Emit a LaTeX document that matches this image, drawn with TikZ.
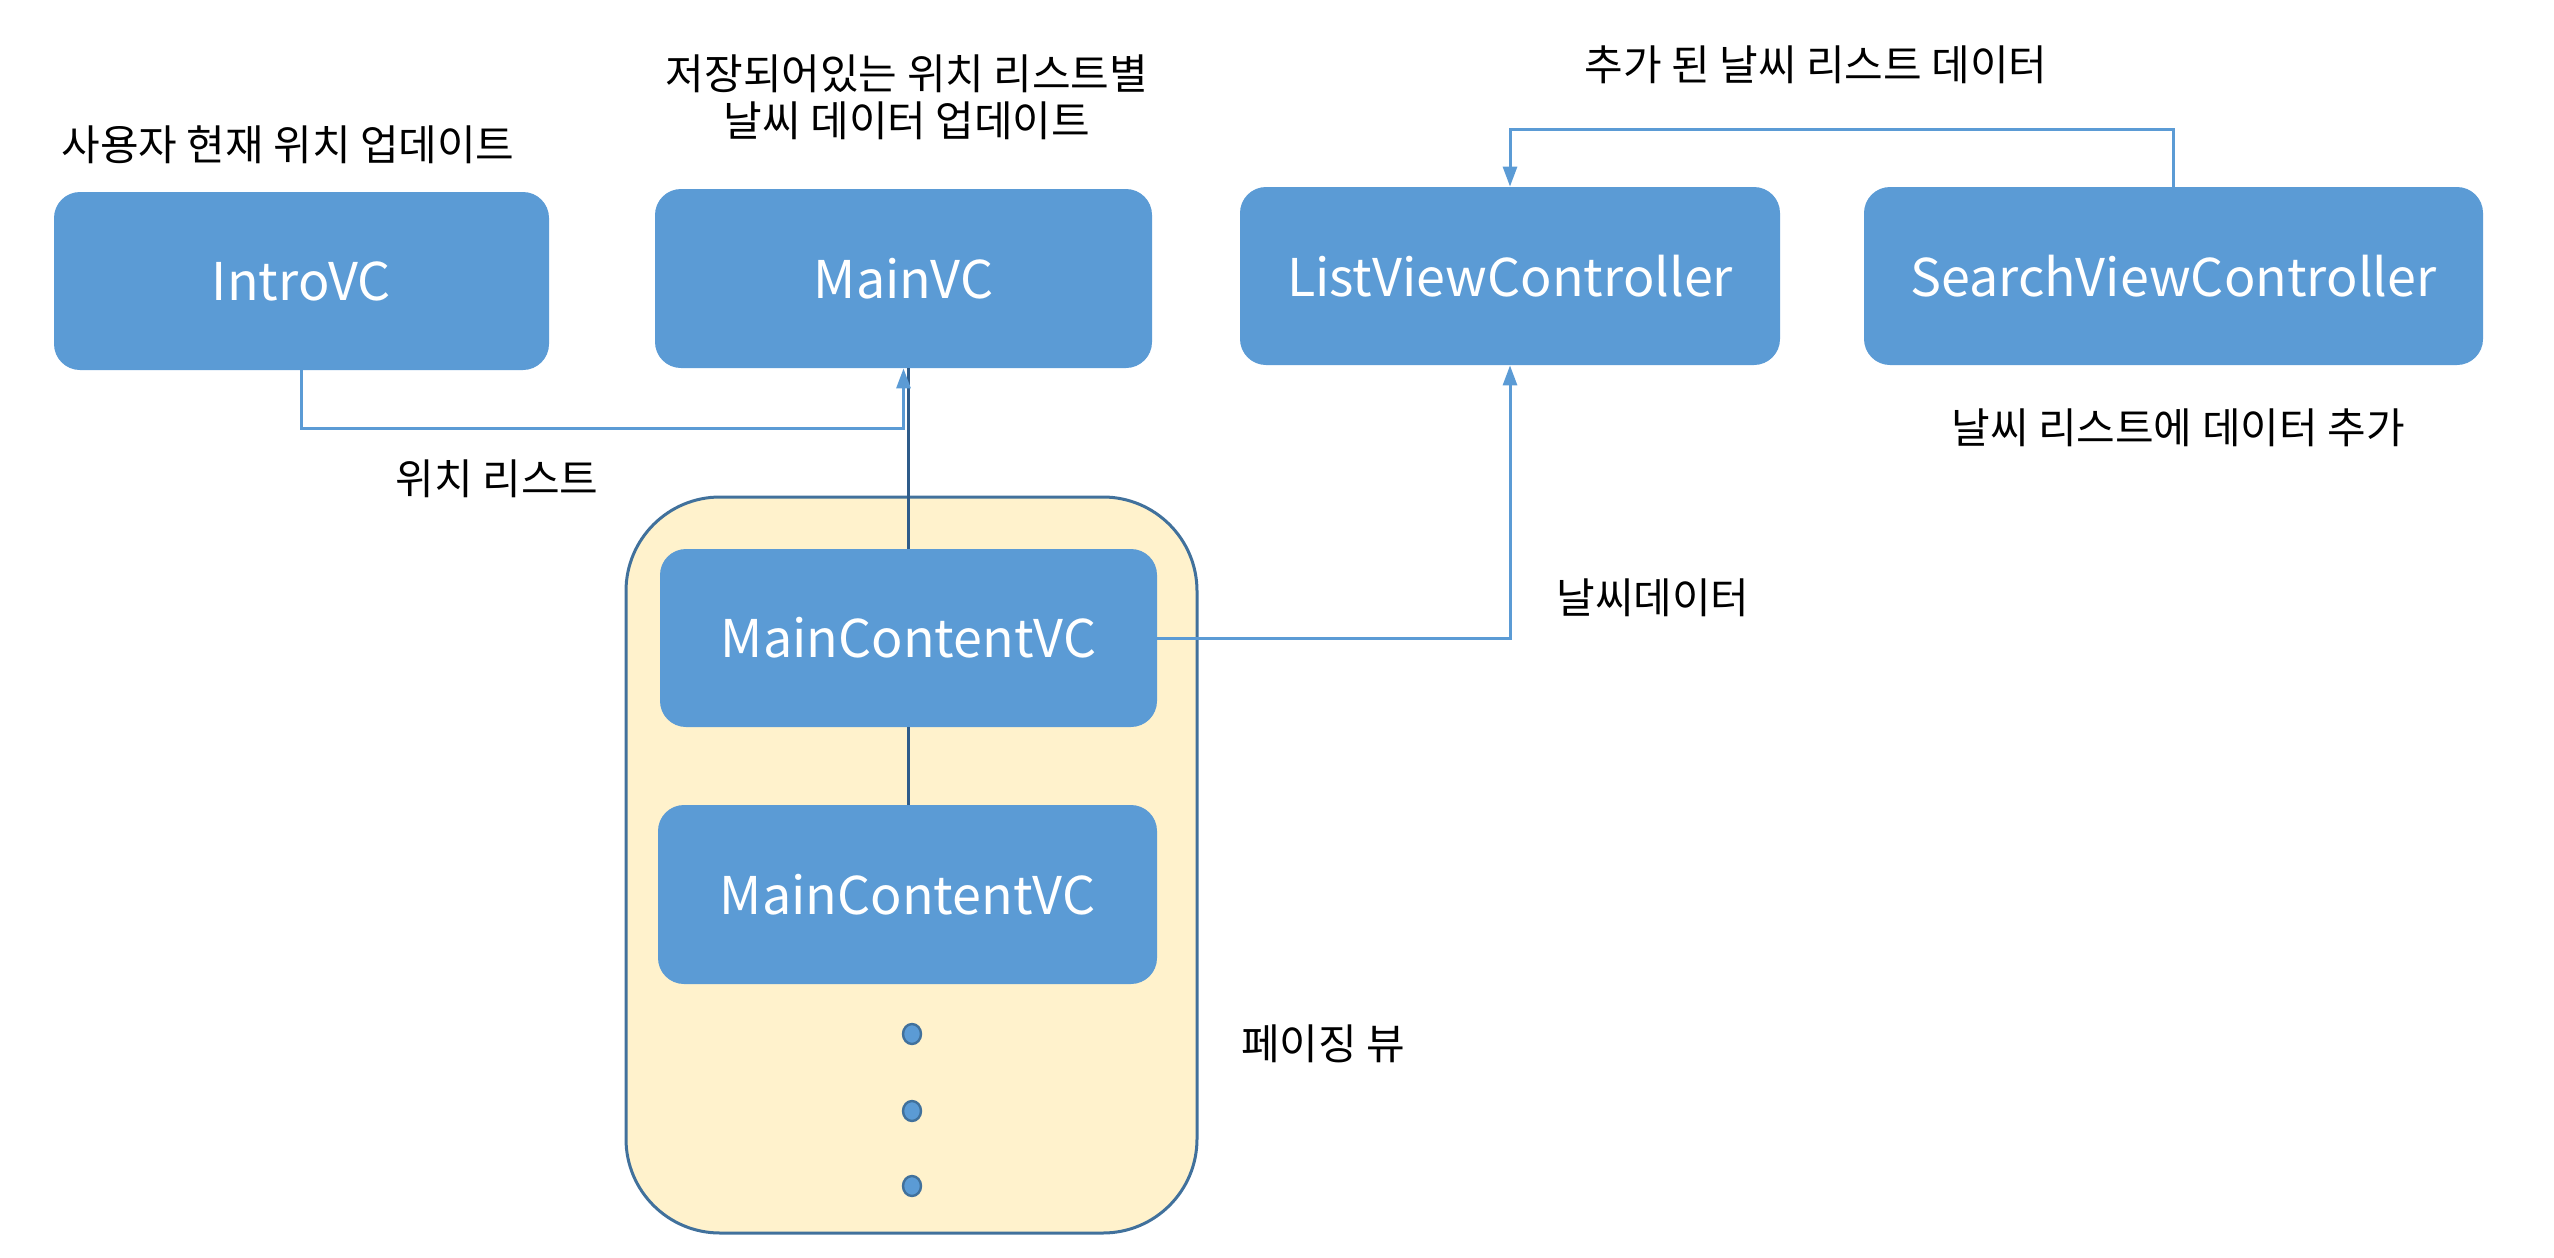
\documentclass[tikz,border=0pt]{standalone}
\usepackage{fontspec}
\setmainfont{Noto Sans CJK KR}
\usetikzlibrary{arrows.meta,calc,shapes.geometric}
\definecolor{boxblue}{HTML}{5B9BD5}
\definecolor{pagefill}{HTML}{FFF2CC}
\definecolor{pageedge}{HTML}{41719C}
\definecolor{darkline}{HTML}{2F5C8A}
\tikzset{
  vcbox/.style={fill=boxblue, draw=none, rounded corners=13pt, text=white,
    font=\fontsize{26}{30}\selectfont, inner sep=0pt},
  lbl/.style={text=black, font=\fontsize{21}{23.6}\selectfont, align=center, inner sep=0pt},
  conn/.style={draw=boxblue, line width=1.5pt},
  arr/.style={-{Triangle[length=10pt,width=7pt]}},
  darkconn/.style={draw=darkline, line width=1.5pt},
  dotmark/.style={ellipse, fill=boxblue, draw=pageedge, line width=1.2pt,
    minimum width=9pt, minimum height=10pt, inner sep=0pt},
}
\begin{document}
\begin{tikzpicture}[x=0.5pt,y=-0.5pt]
\useasboundingbox (0,0) rectangle (2554,1258);
% container
\node[fill=pagefill, draw=pageedge, line width=1.5pt, rounded corners=47pt,
  minimum width=285.5pt, minimum height=368pt, inner sep=0pt] (page) at (911.5,865) {};
% boxes
\node[vcbox, minimum width=247.5pt, minimum height=89pt] (intro) at (301.5,281) {IntroVC};
\node[vcbox, minimum width=248.5pt, minimum height=89.5pt] (main) at (903.5,278.5) {MainVC};
\node[vcbox, minimum width=270pt, minimum height=89pt] (list) at (1510,276) {ListViewController};
\node[vcbox, minimum width=309.5pt, minimum height=89pt] (search) at (2173.5,276) {SearchViewController};
\node[vcbox, minimum width=248.5pt, minimum height=89pt] (mc1) at (908.5,638) {MainContentVC};
\node[vcbox, minimum width=249.5pt, minimum height=89.5pt] (mc2) at (907.5,894.5) {MainContentVC};
% dots
\node[dotmark] (d1) at (912,1034) {};
\node[dotmark] (d2) at (912,1111) {};
\node[dotmark] (d3) at (912,1186) {};
% connectors
\coordinate (j1) at (903.5,428);
\draw[darkconn] (mc1.north) -- (mc1.north |- main.south);
\draw[darkconn] (mc1.south) -- (mc1.south |- mc2.north);
\draw[conn, arr] (intro.south) |- (j1) -- (main.south);
\draw[conn, arr] (mc1.east) -| (list.south);
\coordinate (j2) at (2173.5,129);
\draw[conn, arr] (search.north) -- (j2) -| (list.north);
% labels
\node[lbl] (l1) at (288,145) {사용자 현재 위치 업데이트};
\node[lbl] (l2) at (907,97) {저장되어있는 위치 리스트별\\날씨 데이터 업데이트};
\node[lbl] (l3) at (1816,65) {추가 된 날씨 리스트 데이터};
\node[lbl] (l4) at (497,479) {위치 리스트};
\node[lbl] (l5) at (2178,428) {날씨 리스트에 데이터 추가};
\node[lbl] (l6) at (1653,598) {날씨데이터};
\node[lbl] (l7) at (1323,1044) {페이징 뷰};
\end{tikzpicture}
\end{document}
